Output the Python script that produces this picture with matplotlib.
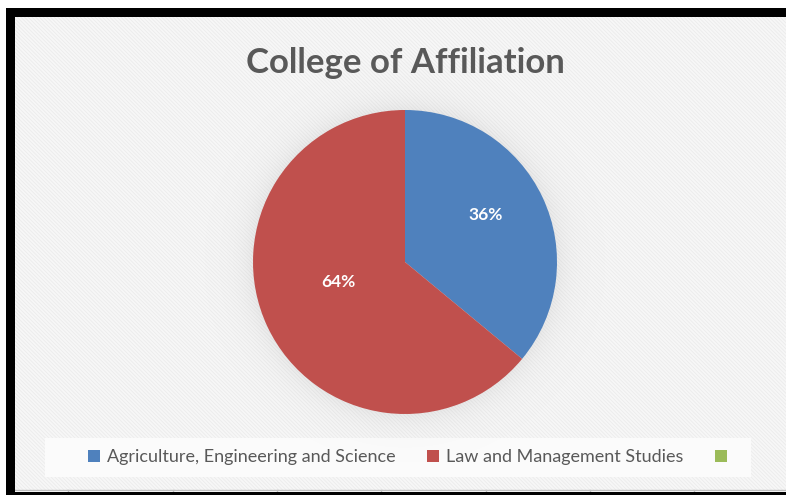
import numpy as np
import matplotlib
matplotlib.use("Agg")
import matplotlib.pyplot as plt
from matplotlib.patches import Rectangle, Patch

# Chart content
title = "College of Affiliation"
categories = ["Agriculture, Engineering and Science", "Law and Management Studies", ""]
shares = [36, 64]
colors = ["#4f81bd", "#c0504d", "#9bbb59"]

W, H = 786, 495
fig = plt.figure(figsize=(W / 100, H / 100), dpi=100)
fig.patch.set_facecolor("white")

# Background layer in pixel coordinates
bg = fig.add_axes([0, 0, 1, 1])
bg.set_xlim(0, W)
bg.set_ylim(H, 0)
bg.axis("off")

# Chart area with fine diagonal texture
plt.rcParams["hatch.linewidth"] = 0.6
bg.add_patch(Rectangle((15, 17), W - 15, 473, facecolor="#f7f7f7",
                       edgecolor="#ebebeb", hatch="\\" * 9, linewidth=0, zorder=1))
# Legend panel
bg.add_patch(Rectangle((45, 438), 706, 39, facecolor="#fbfbfb",
                       edgecolor="none", zorder=2))

# Soft glow around the pie
cx, cy, R = 405, 262, 152
yy, xx = np.mgrid[cy - 200:cy + 200, cx - 200:cx + 200]
rr = np.hypot(xx - cx + 0.5, yy - cy + 0.5)
alpha = np.where(rr > R - 2, 0.13 * np.exp(-(rr - R) / 14.0), 0.13)
rgba = np.zeros(rr.shape + (4,))
rgba[..., :3] = 0.55
rgba[..., 3] = np.clip(alpha, 0, 1)
bg.imshow(rgba, extent=(cx - 200, cx + 200, cy + 200, cy - 200),
          interpolation="bilinear", zorder=3)

# Black frame (top, left, bottom)
bg.add_patch(Rectangle((7, 8), W - 7, 9, facecolor="black", edgecolor="none", zorder=5))
bg.add_patch(Rectangle((6, 8), 9, 487, facecolor="black", edgecolor="none", zorder=5))
bg.add_patch(Rectangle((6, 492), W - 6, 3, facecolor="black", edgecolor="none", zorder=5))
# Bottom grid line with ticks
bg.plot([15, W], [489.5, 489.5], color="#bfbfbf", lw=1, zorder=4)
for tx in [68, 173, 277, 381, 486, 590, 694]:
    bg.plot([tx, tx], [489.5, 492], color="#bfbfbf", lw=1, zorder=4)

# Title
bg.text(cx, 63, title, ha="center", va="center", fontsize=25,
        fontweight="bold", color="#595959", family="Lato", zorder=6)

# Pie
pax = fig.add_axes([(cx - R) / W, (H - cy - R) / H, 2 * R / W, 2 * R / H])
wedges, texts, autotexts = pax.pie(
    shares, colors=colors[:2], startangle=90, counterclock=False,
    autopct="%1.0f%%", pctdistance=0.6,
    textprops=dict(color="white", fontsize=12.5, fontweight="bold", family="Lato"),
    wedgeprops=dict(linewidth=0))
pax.set_xlim(-1, 1)
pax.set_ylim(-1, 1)
pax.axis("off")
# Label placement inside each slice
autotexts[0].set_position((0.53, 0.31))
autotexts[1].set_position((-0.44, -0.13))

# Legend
handles = [Patch(facecolor=c, edgecolor="none") for c in colors]
leg = fig.legend(handles, categories, loc="center left", ncol=3,
                 bbox_to_anchor=(88 / W, (H - 457) / H),
                 frameon=False, borderpad=0, borderaxespad=0,
                 handlelength=0.65, handleheight=0.65,
                 handletextpad=0.4, columnspacing=1.75,
                 prop=dict(family="Lato", size=13))
for t in leg.get_texts():
    t.set_color("#595959")

fig.savefig("out.png", dpi=100)
